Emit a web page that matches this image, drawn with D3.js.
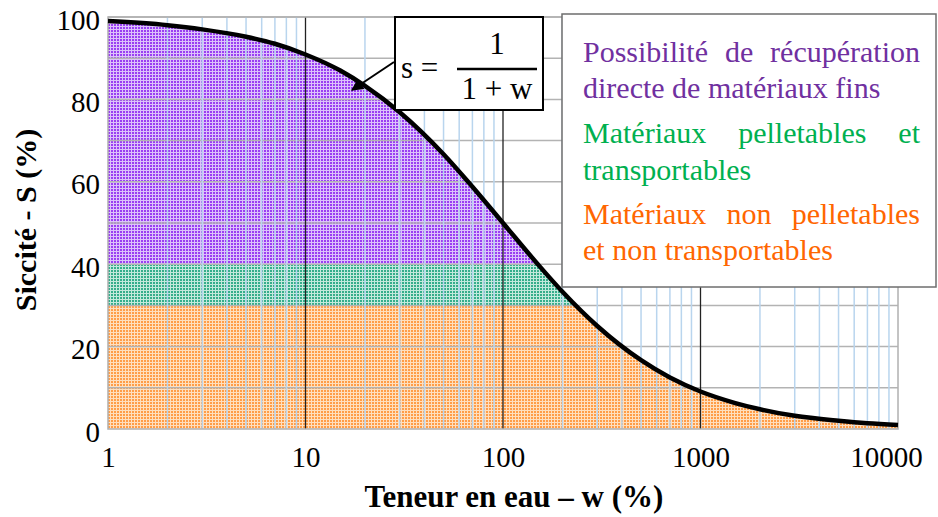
<!DOCTYPE html>
<html>
<head>
<meta charset="utf-8">
<script src="https://cdn.jsdelivr.net/npm/d3@7"></script>
<style>
  body { margin: 0; background: #fff; }
  svg { display: block; }
  svg text { font-family: "Liberation Serif", "Tinos", "DejaVu Serif", serif; }
</style>
</head>
<body>
<svg></svg>
<script>
// Siccité en fonction de la teneur en eau (axe x logarithmique)

const width = 938;
const height = 517;

// Données
const teneur = [1, 2, 3, 5, 7, 10, 15, 20, 30, 50, 70, 100, 150, 200, 300, 500, 700, 1000, 1500, 2000, 3000, 5000, 7000, 10000];
const siccite = [99, 98, 97, 95.2, 93.5, 90.9, 87, 83.3, 76.9, 66.7, 58.8, 50, 40, 33.3, 25, 16.7, 12.5, 9.1, 6.3, 4.8, 3.2, 2, 1.4, 1];

// Bandes de siccité (min, max) et leurs couleurs
const bandes = ["orange", "vert", "violet"];
const bandeMin = [0, 30, 40];
const bandeMax = [30, 40, 100];

const xTicks = [1, 10, 100, 1000, 10000];
const yTicks = [0, 20, 40, 60, 80, 100];

const legende = [
  "Possibilité de récupération",
  "directe de matériaux fins",
  "Matériaux pelletables et",
  "transportables",
  "Matériaux non pelletables",
  "et non transportables"
];
const legendeCouleur = ["#7030a0", "#7030a0", "#00b050", "#00b050", "#ff6600", "#ff6600"];

const points = teneur.map((w, i) => ({ w: w, s: siccite[i] }));

const x = d3.scaleLog().domain([1, 10000]).range([108, 898]);
const y = d3.scaleLinear().domain([0, 100]).range([429, 17]);

const svg = d3.select("svg")
  .attr("width", width)
  .attr("height", height)
  .attr("viewBox", [0, 0, width, height]);

const defs = svg.append("defs");

// Motifs pointillés pour les zones
const motifs = {
  violet: { fond: "#dcc2fb", point: "#9a3ff2" },
  vert: { fond: "#c3e9dc", point: "#35ad8b" },
  orange: { fond: "#ffdfbe", point: "#ff9d48" }
};
Object.keys(motifs).forEach(k => {
  const p = defs.append("pattern")
    .attr("id", "motif-" + k)
    .attr("patternUnits", "userSpaceOnUse")
    .attr("width", 3)
    .attr("height", 3);
  p.append("rect").attr("width", 3).attr("height", 3).attr("fill", motifs[k].fond);
  p.append("rect").attr("width", 2).attr("height", 2).attr("fill", motifs[k].point);
});

// Zone sous la courbe, sert de découpe pour les bandes
const aire = d3.area()
  .x(d => x(d.w))
  .y0(y(0))
  .y1(d => y(d.s))
  .curve(d3.curveMonotoneX);

defs.append("clipPath")
  .attr("id", "sous-courbe")
  .append("path")
  .attr("d", aire(points));

defs.append("marker")
  .attr("id", "fleche")
  .attr("viewBox", "0 0 10 10")
  .attr("refX", 9)
  .attr("refY", 5)
  .attr("markerWidth", 6)
  .attr("markerHeight", 6)
  .attr("orient", "auto")
  .append("path")
  .attr("d", "M0,0 L10,5 L0,10 z")
  .attr("fill", "#000");

// Bandes colorées
svg.append("g")
  .attr("clip-path", "url(#sous-courbe)")
  .selectAll("rect")
  .data(bandes)
  .join("rect")
  .attr("x", x(1))
  .attr("width", x(10000) - x(1))
  .attr("y", (d, i) => y(bandeMax[i]))
  .attr("height", (d, i) => y(bandeMin[i]) - y(bandeMax[i]))
  .attr("fill", d => "url(#motif-" + d + ")");

// Grille verticale secondaire (2..9 de chaque décade)
const mineurs = [];
[1, 10, 100, 1000].forEach(dec => {
  for (let k = 2; k <= 9; k++) mineurs.push(dec * k);
});

const grille = svg.append("g");

grille.selectAll("line.h")
  .data(d3.range(10, 101, 10))
  .join("line")
  .attr("class", "h")
  .attr("x1", x(1))
  .attr("x2", x(10000))
  .attr("y1", d => y(d))
  .attr("y2", d => y(d))
  .attr("stroke", "#b3b3b3")
  .attr("stroke-width", 1.5);

grille.selectAll("line.m")
  .data(mineurs)
  .join("line")
  .attr("class", "m")
  .attr("x1", d => x(d))
  .attr("x2", d => x(d))
  .attr("y1", y(0))
  .attr("y2", y(100))
  .attr("stroke", "#b9d5ee")
  .attr("stroke-width", 1.5);

grille.selectAll("line.M")
  .data([10, 100, 1000])
  .join("line")
  .attr("class", "M")
  .attr("x1", d => x(d))
  .attr("x2", d => x(d))
  .attr("y1", y(0))
  .attr("y2", y(100))
  .attr("stroke", "#222")
  .attr("stroke-width", 1.3);

// Cadre
svg.append("rect")
  .attr("x", x(1))
  .attr("y", y(100))
  .attr("width", x(10000) - x(1))
  .attr("height", y(0) - y(100))
  .attr("fill", "none")
  .attr("stroke", "#b0b0b0")
  .attr("stroke-width", 1.5);

// Courbe
const ligne = d3.line()
  .x(d => x(d.w))
  .y(d => y(d.s))
  .curve(d3.curveMonotoneX);

svg.append("path")
  .attr("d", ligne(points))
  .attr("fill", "none")
  .attr("stroke", "#000")
  .attr("stroke-width", 4.5);

// Axes (labels seulement)
const xAxis = svg.append("g")
  .attr("transform", `translate(0,${y(0)})`)
  .call(d3.axisBottom(x).tickValues(xTicks).tickFormat(d3.format("d")).tickSize(0).tickPadding(17));
xAxis.select(".domain").remove();
xAxis.attr("font-family", null);
xAxis.selectAll("text")
  .attr("font-size", 29)
  .attr("fill", "#000")
  .attr("dx", d => d === 10000 ? -12 : 0);

const yAxis = svg.append("g")
  .attr("transform", `translate(${x(1)},0)`)
  .call(d3.axisLeft(y).tickValues(yTicks).tickSize(0).tickPadding(8));
yAxis.select(".domain").remove();
yAxis.attr("font-family", null);
yAxis.selectAll("text")
  .attr("font-size", 29)
  .attr("fill", "#000")
  .attr("dy", "0.42em");

// Titres des axes
svg.append("text")
  .attr("x", 514)
  .attr("y", 507)
  .attr("text-anchor", "middle")
  .attr("font-weight", "bold")
  .attr("font-size", 31)
  .text("Teneur en eau – w (%)");

svg.append("text")
  .attr("transform", "translate(36,220) rotate(-90)")
  .attr("text-anchor", "middle")
  .attr("font-weight", "bold")
  .attr("font-size", 30)
  .text("Siccité - S (%)");

// Encadré de la formule
const formule = svg.append("g");
formule.append("rect")
  .attr("x", 395).attr("y", 17)
  .attr("width", 148).attr("height", 93)
  .attr("fill", "#fff")
  .attr("stroke", "#000")
  .attr("stroke-width", 2);
formule.append("text").attr("x", 401).attr("y", 78).attr("font-size", 31).text("s =");
formule.append("text").attr("x", 497).attr("y", 54).attr("font-size", 31).attr("text-anchor", "middle").text("1");
formule.append("line")
  .attr("x1", 457).attr("x2", 537)
  .attr("y1", 69).attr("y2", 69)
  .attr("stroke", "#000").attr("stroke-width", 2.5);
formule.append("text").attr("x", 497).attr("y", 99).attr("font-size", 31).attr("text-anchor", "middle").text("1 + w");

svg.append("line")
  .attr("x1", 394).attr("y1", 62)
  .attr("x2", 352).attr("y2", 90)
  .attr("stroke", "#000")
  .attr("stroke-width", 2)
  .attr("marker-end", "url(#fleche)");

// Légende
svg.append("rect")
  .attr("x", 562).attr("y", 14)
  .attr("width", 374).attr("height", 273)
  .attr("fill", "#fff")
  .attr("stroke", "#6e6e6e")
  .attr("stroke-width", 1.5);

const baselines = [62, 98, 143, 180, 224, 260];
const justifie = [true, false, true, false, true, false];

svg.append("g")
  .selectAll("text")
  .data(legende)
  .join("text")
  .attr("x", 583)
  .attr("y", (d, i) => baselines[i])
  .attr("font-size", 30)
  .attr("fill", (d, i) => legendeCouleur[i])
  .text(d => d)
  .each(function(d, i) {
    if (justifie[i]) {
      // lignes justifiées : on élargit les espaces entre les mots
      const long = this.getComputedTextLength();
      const espaces = d.split(" ").length - 1;
      d3.select(this).attr("word-spacing", (337 - long) / espaces);
    }
  });
</script>
</body>
</html>
